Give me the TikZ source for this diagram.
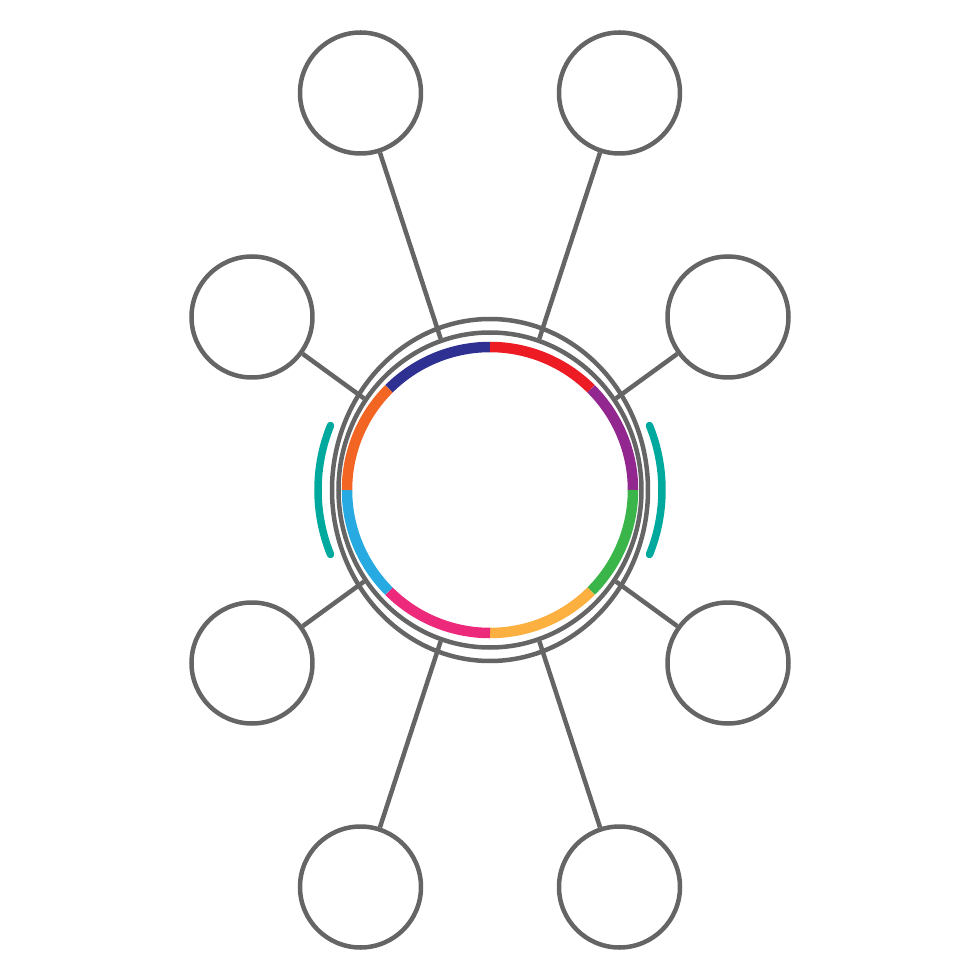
\documentclass[tikz,border=0pt]{standalone}
\usepackage{tikz}
\usetikzlibrary{shapes.geometric}
\definecolor{ringgray}{HTML}{656565}
\definecolor{segnavy}{HTML}{2E3192}
\definecolor{segred}{HTML}{ED1C24}
\definecolor{segpurple}{HTML}{92278F}
\definecolor{seggreen}{HTML}{39B54A}
\definecolor{segyellow}{HTML}{FBB040}
\definecolor{segpink}{HTML}{EC297B}
\definecolor{segsky}{HTML}{27AAE1}
\definecolor{segorange}{HTML}{F26522}
\definecolor{markteal}{HTML}{00A99D}
\begin{document}
\begin{tikzpicture}[line width=0.09cm, draw=ringgray]
   \tikzstyle{bubble}=[circle,draw=ringgray,fill=none,minimum size=2.42cm,inner sep=0pt]
   \tikzstyle{ring}=[ellipse,draw=ringgray,inner sep=0pt]
\useasboundingbox (-9.8,-9.8) rectangle (9.8,9.8);
\node[ring, minimum width=6.32cm, minimum height=6.84cm] (rim) at (0,0) {};
\node[ring, minimum width=6.06cm, minimum height=6.30cm] (hub) at (0,0) {};
% colour segments of the hub
\foreach \a/\c in {135/segnavy, 90/segred, 45/segpurple, 0/seggreen,
                   -45/segyellow, -90/segpink, -135/segsky, 180/segorange}
   \draw[\c, line width=0.21cm] (\a:2.86) arc (\a:\a-45:2.86);
% side marks
\draw[markteal, line width=0.15cm, line cap=round] (158:3.44) arc (158:202:3.44);
\draw[markteal, line width=0.15cm, line cap=round] (22:3.44) arc (22:-22:3.44);
% outer bubbles
\node[bubble] (tl) at (-2.59, 7.94) {};
\node[bubble] (tr) at ( 2.59, 7.94) {};
\node[bubble] (ul) at (-4.76, 3.46) {};
\node[bubble] (ur) at ( 4.76, 3.46) {};
\node[bubble] (ll) at (-4.76,-3.46) {};
\node[bubble] (lr) at ( 4.76,-3.46) {};
\node[bubble] (bl) at (-2.59,-7.94) {};
\node[bubble] (br) at ( 2.59,-7.94) {};

 \path[draw=ringgray]  (tl) edge (hub)
        (tr) edge (hub)
        (ul) edge (hub)
        (ur) edge (hub)
        (ll) edge (hub)
        (lr) edge (hub)
        (bl) edge (hub)
        (br) edge (hub);
\end{tikzpicture}
\end{document}
